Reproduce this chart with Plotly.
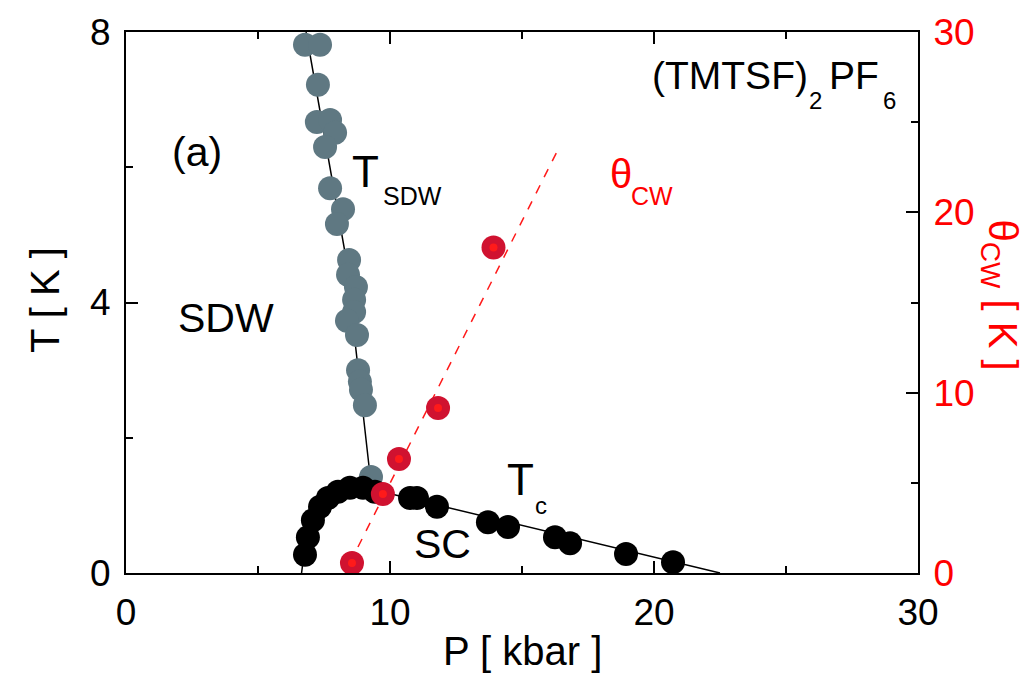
import plotly.graph_objects as go

# ---------------- data ----------------
SDW_P = [6.78, 7.35, 7.27, 7.23, 7.73, 7.92, 7.54, 7.73, 8.22, 7.99, 8.45, 8.41, 8.71,
         8.64, 8.64, 8.37, 8.75, 8.79, 8.86, 8.90, 9.05, 9.28]
SDW_T = [7.81, 7.81, 7.22, 6.67, 6.70, 6.51, 6.30, 5.69, 5.38, 5.16, 4.63, 4.41, 4.23,
         4.04, 3.86, 3.73, 3.52, 3.00, 2.83, 2.71, 2.48, 1.42]

SC_P = [6.78, 6.89, 7.08, 7.35, 7.65, 8.03, 8.48, 8.98, 9.43, 10.76, 11.02, 11.78,
        13.71, 14.47, 16.25, 16.82, 18.94, 20.72]
SC_T = [0.27, 0.53, 0.78, 0.98, 1.11, 1.20, 1.26, 1.26, 1.20, 1.11, 1.11, 0.98,
        0.75, 0.68, 0.53, 0.44, 0.28, 0.16]

CW_P = [8.56, 9.73, 10.34, 11.82, 13.92]
CW_THETA = [0.55, 4.38, 6.32, 9.15, 18.05]

# guide lines drawn in the reference
SDW_LINE_P = [6.82, 8.30, 9.30]
SDW_LINE_T = [8.0, 4.73, 1.25]
SC_LINE_P = [6.65, 6.75, 6.90, 7.10, 7.40, 7.80, 8.30, 8.90, 9.50, 22.5]
SC_LINE_T = [0.0, 0.30, 0.58, 0.82, 1.02, 1.15, 1.23, 1.26, 1.22, 0.0]
CW_LINE_P = [8.48, 16.44]
CW_LINE_THETA = [0.55, 23.7]

X_TICKS = [0, 10, 20, 30]
Y_TICKS = [0, 4, 8]
Y2_TICKS = [0, 10, 20, 30]

FONT = "Liberation Sans, Arial, sans-serif"
GRAY = "#5f7882"
RED = "#ff1a1a"
RED_DARK = "#d01230"

fig = go.Figure()

fig.add_trace(go.Scatter(x=SDW_LINE_P, y=SDW_LINE_T, mode="lines",
                         line=dict(color="black", width=1.5), showlegend=False))
fig.add_trace(go.Scatter(x=SC_LINE_P, y=SC_LINE_T, mode="lines",
                         line=dict(color="black", width=1.5), showlegend=False))
fig.add_trace(go.Scatter(x=SDW_P, y=SDW_T, mode="markers",
                         marker=dict(color=GRAY, size=24, line=dict(width=0)),
                         showlegend=False))
fig.add_trace(go.Scatter(x=SC_P, y=SC_T, mode="markers",
                         marker=dict(color="black", size=24, line=dict(width=0)),
                         showlegend=False))
fig.add_trace(go.Scatter(x=CW_LINE_P, y=CW_LINE_THETA, mode="lines", yaxis="y2",
                         line=dict(color=RED, width=1.5, dash="dash"), showlegend=False))
fig.add_trace(go.Scatter(x=CW_P, y=CW_THETA, mode="markers", yaxis="y2",
                         marker=dict(color=RED_DARK, size=24, line=dict(width=0)),
                         showlegend=False))
fig.add_trace(go.Scatter(x=CW_P, y=CW_THETA, mode="markers", yaxis="y2",
                         marker=dict(color=RED, size=8, line=dict(width=0)),
                         showlegend=False))

axis_common = dict(showgrid=False, zeroline=False, showline=True, linecolor="black",
                   linewidth=2, ticks="inside", tickcolor="black", tickwidth=1.5,
                   ticklen=12)

fig.update_layout(
    width=1033, height=676,
    margin=dict(l=126, r=115, t=32, b=103, pad=0),
    plot_bgcolor="white", paper_bgcolor="white",
    font=dict(family=FONT, color="black", size=37),
    xaxis=dict(range=[0, 30], tickvals=X_TICKS, mirror="ticks",
               minor=dict(dtick=5, ticklen=7, tickcolor="black", tickwidth=1.5, ticks="inside"),
               tickfont=dict(size=37), ticklabelstandoff=6, **axis_common),
    yaxis=dict(range=[0, 8], tickvals=Y_TICKS,
               minor=dict(dtick=2, ticklen=7, tickcolor="black", tickwidth=1.5, ticks="inside"),
               tickfont=dict(size=37), ticklabelstandoff=6, **axis_common),
    yaxis2=dict(range=[0, 30], tickvals=Y2_TICKS, overlaying="y", side="right", anchor="x",
                minor=dict(dtick=5, ticklen=7, tickcolor="black", tickwidth=1.5, ticks="inside"),
                tickfont=dict(size=37, color="red"), ticklabelstandoff=6, **axis_common),
)

def ann(text, x, y, size, color="black", xanchor="left", **kw):
    fig.add_annotation(text=text, x=x, y=y, xref="x", yref="y", showarrow=False,
                       xanchor=xanchor, yanchor="middle",
                       font=dict(family=FONT, size=size, color=color), **kw)

ann("(a)", 1.65, 6.23, 41)
ann("T", 8.5, 5.94, 44)
ann("SDW", 9.65, 5.57, 25)
ann("SDW", 1.9, 3.77, 41)
ann("SC", 10.85, 0.43, 41)
ann("T", 14.37, 1.39, 44)
ann("c", 15.4, 1.0, 24)
ann("\u03b8", 18.25, 5.9, 40, color="red")
ann("CW", 19.05, 5.58, 25, color="red")
ann("(TMTSF)", 19.85, 7.35, 39)
ann("2", 25.8, 6.98, 24)
ann("PF", 26.55, 7.35, 39)
ann("6", 28.6, 6.98, 24)

# axis titles
fig.add_annotation(text="P [ kbar ]", x=0.5, y=-0.144, xref="paper", yref="paper",
                   showarrow=False, xanchor="center", yanchor="middle",
                   font=dict(family=FONT, size=40, color="black"))
fig.add_annotation(text="T [ K ]", x=-0.102, y=0.505, xref="paper", yref="paper",
                   showarrow=False, xanchor="center", yanchor="middle", textangle=-90,
                   font=dict(family=FONT, size=40, color="black"))
fig.add_annotation(text="\u03b8<sub>CW</sub> [ K ]", x=1.104, y=0.514, xref="paper", yref="paper",
                   showarrow=False, xanchor="center", yanchor="middle", textangle=90,
                   font=dict(family=FONT, size=40, color="red"))

fig.write_html("out.html")
